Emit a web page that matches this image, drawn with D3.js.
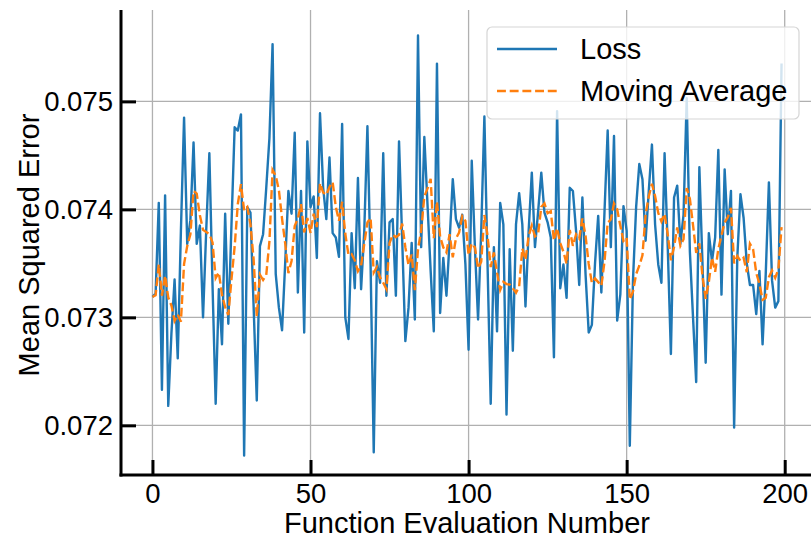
<!DOCTYPE html>
<html>
  <head>
    <title>Loss</title>
    <meta charset="utf-8">
    <script src="https://d3js.org/d3.v7.min.js"></script>
    <style>
      body { margin: 0; background: #fff; }
      text { font-family: "Liberation Sans", Arial, sans-serif; fill: #000; }
    </style>
  </head>

  <body>

    <svg width="811" height="538"></svg>

    <script>

      // loss per function evaluation
      var loss = [
        0.07319, 0.07322, 0.07406, 0.07233, 0.07413, 0.07218, 0.07285, 0.07335, 0.07262, 0.07380,
        0.07485, 0.07368, 0.07390, 0.07462, 0.07368, 0.07385, 0.07300, 0.07380, 0.07452, 0.07330,
        0.07220, 0.07326, 0.07275, 0.07396, 0.07294, 0.07386, 0.07476, 0.07473, 0.07488, 0.07172,
        0.07402, 0.07397, 0.07310, 0.07223, 0.07366, 0.07377, 0.07420, 0.07466, 0.07553, 0.07340,
        0.07309, 0.07288, 0.07351, 0.07417, 0.07396, 0.07471, 0.07323, 0.07417, 0.07286, 0.07463,
        0.07402, 0.07412, 0.07355, 0.07489, 0.07420, 0.07391, 0.07448, 0.07378, 0.07374, 0.07356,
        0.07479, 0.07300, 0.07280, 0.07378, 0.07327, 0.07429, 0.07326, 0.07380, 0.07477, 0.07349,
        0.07175, 0.07352, 0.07332, 0.07452, 0.07320, 0.07388, 0.07391, 0.07320, 0.07463, 0.07372,
        0.07278, 0.07309, 0.07369, 0.07298, 0.07561, 0.07365, 0.07467, 0.07405, 0.07343, 0.07287,
        0.07535, 0.07304, 0.07355, 0.07320, 0.07371, 0.07428, 0.07391, 0.07383, 0.07395, 0.07349,
        0.07270, 0.07445, 0.07365, 0.07298, 0.07380, 0.07486, 0.07349, 0.07220, 0.07365, 0.07287,
        0.07406, 0.07386, 0.07210, 0.07363, 0.07269, 0.07386, 0.07415, 0.07386, 0.07310, 0.07380,
        0.07434, 0.07365, 0.07398, 0.07434, 0.07397, 0.07388, 0.07374, 0.07263, 0.07491, 0.07327,
        0.07349, 0.07318, 0.07420, 0.07417, 0.07380, 0.07330, 0.07411, 0.07340, 0.07286, 0.07293,
        0.07350, 0.07394, 0.07323, 0.07398, 0.07473, 0.07365, 0.07468, 0.07297, 0.07321, 0.07403,
        0.07380, 0.07181, 0.07334, 0.07402, 0.07442, 0.07428, 0.07371, 0.07417, 0.07460, 0.07386,
        0.07349, 0.07332, 0.07452, 0.07365, 0.07266, 0.07411, 0.07422, 0.07368, 0.07395, 0.07503,
        0.07361, 0.07300, 0.07240, 0.07439, 0.07349, 0.07258, 0.07378, 0.07352, 0.07374, 0.07455,
        0.07321, 0.07437, 0.07377, 0.07417, 0.07198, 0.07355, 0.07414, 0.07392, 0.07350, 0.07330,
        0.07330, 0.07303, 0.07343, 0.07275, 0.07340, 0.07425, 0.07334, 0.07309, 0.07315, 0.07535
      ];
      var window_size = 5;

      var xTicks = [0, 50, 100, 150, 200];
      var yTicks = [0.072, 0.073, 0.074, 0.075];
      var seriesNames = ["Loss", "Moving Average"];

      // trailing mean over the last 5 evaluations (shorter at the start)
      var movingAvg = loss.map(function(v, i) {
        return d3.mean(loss.slice(Math.max(0, i - window_size + 1), i + 1));
      });

      var svg = d3.select("svg"),
          plot = {left: 121, right: 813, top: 15, bottom: 475},
          fontSize = 29,
          tickFontSize = 27.5,
          lw = 2.4,
          dash = "8.9,3.8";

      var x = d3.scaleLinear().domain([-9.95, 208.95]).range([plot.left, plot.right]),
          y = d3.scaleLinear().domain([0.07154, 0.0758]).range([plot.bottom, plot.top]);

      // grid
      svg.append("g").selectAll("line")
          .data(xTicks)
        .enter().append("line")
          .attr("x1", function(d) { return x(d); })
          .attr("x2", function(d) { return x(d); })
          .attr("y1", plot.top - 5).attr("y2", plot.bottom)
          .attr("stroke", "#b0b0b0").attr("stroke-width", 1.3);

      svg.append("g").selectAll("line")
          .data(yTicks)
        .enter().append("line")
          .attr("x1", plot.left).attr("x2", 811)
          .attr("y1", function(d) { return y(d); })
          .attr("y2", function(d) { return y(d); })
          .attr("stroke", "#b0b0b0").attr("stroke-width", 1.3);

      var line = d3.line()
          .x(function(d, i) { return x(i); })
          .y(function(d) { return y(d); });

      svg.append("path")
          .datum(loss)
          .attr("d", line)
          .attr("fill", "none")
          .attr("stroke", "#1f77b4")
          .attr("stroke-width", lw)
          .attr("stroke-linejoin", "round");

      svg.append("path")
          .datum(movingAvg)
          .attr("d", line)
          .attr("fill", "none")
          .attr("stroke", "#ff7f0e")
          .attr("stroke-width", lw)
          .attr("stroke-dasharray", dash);

      // axes, ticks pointing inward
      var xAxis = d3.axisBottom(x).tickValues(xTicks).tickSize(-15).tickPadding(8);
      var yAxis = d3.axisLeft(y).tickValues(yTicks).tickSize(-15).tickPadding(8)
          .tickFormat(d3.format(".3f"));

      var gx = svg.append("g")
          .attr("transform", "translate(0," + plot.bottom + ")")
          .call(xAxis);
      var gy = svg.append("g")
          .attr("transform", "translate(" + plot.left + ",0)")
          .call(yAxis);

      [gx, gy].forEach(function(g) {
        g.attr("font-size", tickFontSize).attr("font-family", "Liberation Sans, Arial, sans-serif");
        g.select(".domain").remove();
        g.selectAll(".tick line").attr("stroke", "#000").attr("stroke-width", 3);
      });

      svg.append("line")
          .attr("x1", plot.left).attr("x2", plot.left)
          .attr("y1", 10).attr("y2", plot.bottom + 1.5)
          .attr("stroke", "#000").attr("stroke-width", 3);
      svg.append("line")
          .attr("x1", plot.left - 1.5).attr("x2", 811)
          .attr("y1", plot.bottom).attr("y2", plot.bottom)
          .attr("stroke", "#000").attr("stroke-width", 3);

      svg.append("text")
          .attr("x", (plot.left + plot.right) / 2).attr("y", 533)
          .attr("text-anchor", "middle")
          .attr("font-size", fontSize)
          .text("Function Evaluation Number");

      svg.append("text")
          .attr("transform", "translate(39,245) rotate(-90)")
          .attr("text-anchor", "middle")
          .attr("font-size", fontSize)
          .text("Mean Squared Error");

      // legend
      var legend = svg.append("g");
      legend.append("rect")
          .attr("x", 487).attr("y", 27)
          .attr("width", 312).attr("height", 92)
          .attr("rx", 5)
          .attr("fill", "#fff").attr("fill-opacity", 0.8)
          .attr("stroke", "#d5d5d5").attr("stroke-width", 1.2);

      var entries = legend.selectAll(".entry")
          .data(seriesNames)
        .enter().append("g")
          .attr("class", "entry")
          .attr("transform", function(d, i) { return "translate(497," + (49 + 42 * i) + ")"; });

      entries.append("line")
          .attr("x1", 0).attr("x2", 60)
          .attr("stroke", function(d, i) { return i ? "#ff7f0e" : "#1f77b4"; })
          .attr("stroke-width", lw)
          .attr("stroke-dasharray", function(d, i) { return i ? dash : null; });

      entries.append("text")
          .attr("x", 83).attr("y", 10)
          .attr("font-size", fontSize)
          .text(function(d) { return d; });

    </script>
  </body>
</html>
